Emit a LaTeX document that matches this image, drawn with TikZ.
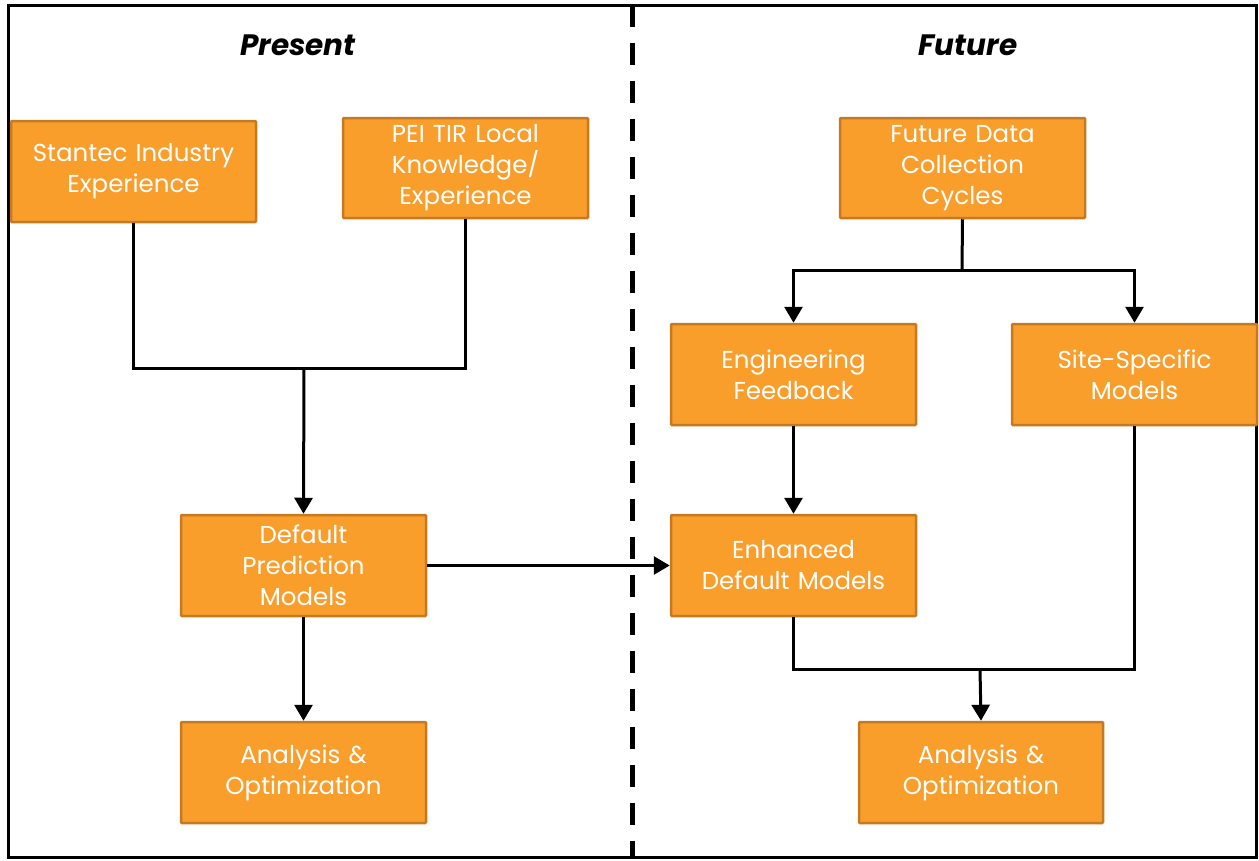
\documentclass[tikz,border=0pt]{standalone}
\usepackage{fontspec}
\setmainfont{Poppins}
\usetikzlibrary{arrows.meta}
\definecolor{boxfill}{HTML}{F99D2B}
\definecolor{boxline}{HTML}{C47A22}
\tikzset{
  stepbox/.style={draw=boxline, line width=2.5pt, fill=boxfill, rounded corners=1pt, inner sep=0pt,
    text=white, align=center, font=\fontsize{24.5}{31}\selectfont},
  conn/.style={line width=3pt, black},
  arr/.style={conn, -{Triangle[width=18pt,length=16pt]}},
  hdr/.style={font=\fontsize{29.5}{32}\selectfont\bfseries\itshape}
}
\newcommand{\bx}[6]{\node[stepbox, minimum width=#4pt-#2pt, minimum height=#5pt-#3pt, text width=#4pt-#2pt-6pt] (#1) at ({(#2+#4)/2},{(#3+#5)/2}) {#6};}
\begin{document}
\begin{tikzpicture}[x=1pt,y=-1pt]
\useasboundingbox (0,0) rectangle (1259,860);
\draw[line width=3pt] (8,5) rectangle (1256,857);
\coordinate (dtop) at (632,5);
\coordinate (dbot) at (632,857);
\draw[line width=5pt, dash pattern=on 22pt off 16pt] (dtop) -- (dbot);
\node[hdr] (present) at (298,45) {Present};
\node[hdr] (future) at (968,45) {Future};

\bx{stantec}{11}{121}{256}{222}{Stantec Industry\\Experience}
\bx{pei}{343}{118}{588}{218}{PEI TIR Local\\Knowledge/\\Experience}
\bx{fdc}{840}{118}{1085}{218}{Future Data\\Collection\\Cycles}
\bx{eng}{671}{324}{916}{425}{Engineering\\Feedback}
\bx{site}{1012}{324}{1257}{425}{Site-Specific\\Models}
\bx{dpm}{181}{515}{426}{616}{Default\\Prediction\\Models}
\bx{edm}{671}{515}{916}{616}{Enhanced\\Default Models}
\bx{aol}{181}{722}{426}{823}{Analysis \&\\Optimization}
\bx{aor}{859}{722}{1103}{823}{Analysis \&\\Optimization}

\coordinate (j1) at (304,368);
\draw[conn] (stantec.south) |- (j1);
\draw[conn] (pei.south) |- (j1);
\draw[arr] (j1) -- (dpm.north);
\draw[arr] (dpm.south) -- (aol.north);
\draw[arr] (dpm.east) -- (edm.west);

\coordinate (j2) at (962,270);
\draw[conn] (fdc.south) -- (j2);
\draw[arr] (j2) -| (eng.north);
\draw[arr] (j2) -| (site.north);
\draw[arr] (eng.south) -- (edm.north);

\coordinate (j3) at (980,669);
\draw[conn] (edm.south) |- (j3);
\draw[conn] (site.south) |- (j3);
\draw[arr] (j3) -- (aor.north);
\end{tikzpicture}
\end{document}
